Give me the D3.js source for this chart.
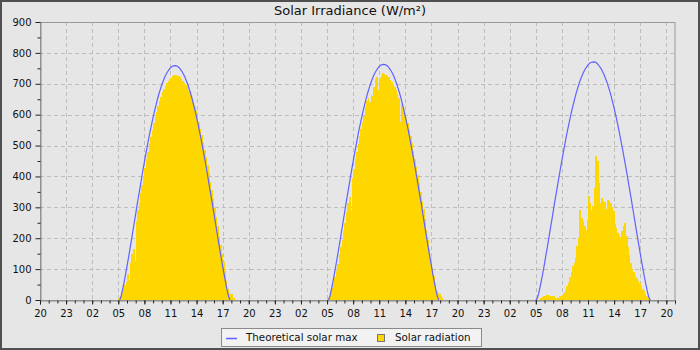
<!DOCTYPE html>
<html><head><meta charset="utf-8">
<script src="https://cdn.jsdelivr.net/npm/d3@7"></script>
<style>body{margin:0;background:#e6e6e6}svg{display:block}</style>
</head><body>
<svg id="chart" width="700" height="350"></svg>
<script>
const chartTitle = "Solar Irradiance (W/m²)";
const seriesNames = ["Theoretical solar max", "Solar radiation"];
// hours from first 20:00 to midnight of each day
const dayMidnights = [4, 28, 52];
const firstSlotHour = 5;          // 05:00
const slotsPerHour = 6;           // 10-minute samples
const xDomainHours = [0, 73];
const xTickLabels = ["20","23","02","05","08","11","14","17","20","23","02","05","08","11","14","17","20","23","02","05","08","11","14","17","20"];
const yTicks = [0,100,200,300,400,500,600,700,800,900];

const theoreticalDay1 = [0,0,13,34,57,83,109,136,164,192,221,250,279,309,336,364,392,420,447,473,498,523,547,569,591,612,631,650,667,682,697,709,721,731,739,746,752,756,758,759,758,756,752,746,739,731,721,709,697,682,667,650,631,612,591,569,547,523,498,473,447,420,392,364,336,309,279,250,221,192,164,136,109,83,57,34,13,0,0,0];
const theoreticalDay2 = [0,0,13,34,57,83,110,137,165,193,222,251,280,311,338,366,394,422,449,475,500,526,550,572,594,615,634,653,670,685,700,713,725,735,743,750,756,760,762,763,762,760,756,750,743,735,725,713,700,685,670,653,634,615,594,572,550,526,500,475,449,422,394,366,338,311,280,251,222,193,165,137,110,83,57,34,13,0,0,0];
const theoreticalDay3 = [0,5,22,43,67,92,118,146,173,201,230,258,287,317,343,371,399,426,453,479,504,529,552,574,596,617,636,655,672,688,703,716,728,738,747,754,761,766,769,770,771,770,767,762,756,749,740,730,718,706,691,676,659,640,621,600,579,557,533,509,484,458,432,405,377,349,322,293,264,235,207,179,151,124,98,72,48,26,8,0];

const radiationDay1 = [8,12,25,40,48,58,85,65,120,150,165,125,255,290,315,345,372,400,428,455,480,505,528,550,572,592,610,628,645,658,672,683,693,702,709,715,720,724,727,727,726,724,721,716,710,703,696,688,678,667,655,642,628,612,594,575,555,533,510,486,462,436,410,383,355,327,298,268,238,208,178,150,122,95,60,35,22,20,18,8];
const radiationDay2 = [5,12,25,40,55,75,95,115,145,170,195,225,250,285,315,335,290,395,425,455,480,505,530,552,575,595,625,645,655,640,665,660,690,715,722,680,718,728,735,733,730,726,722,712,705,698,690,680,668,655,575,635,622,605,590,572,552,530,507,482,458,432,405,378,350,322,293,263,228,195,165,135,105,78,55,30,22,18,12,5];
const radiationDay3 = [0,0,0,6,10,13,14,16,15,14,12,12,13,7,5,8,12,14,17,22,33,44,55,76,92,110,119,136,174,200,292,265,255,240,228,260,336,315,287,303,363,465,449,379,314,330,320,318,295,325,320,315,300,287,245,233,217,210,203,222,238,249,206,170,146,119,100,92,80,71,62,55,45,36,28,20,14,8,3,0];

const theoretical = [theoreticalDay1, theoreticalDay2, theoreticalDay3];
const radiation = [radiationDay1, radiationDay2, radiationDay3];

const W = 700, H = 350;
const M = {left: 40, right: 675, top: 22, bottom: 300};
const svg = d3.select("#chart");
const font = "DejaVu Sans, Verdana, sans-serif";

svg.append("rect").attr("x",0).attr("y",0).attr("width",W).attr("height",H).attr("fill","#e6e6e6");

const x = d3.scaleLinear().domain(xDomainHours).range([M.left, M.right]);
const y = d3.scaleLinear().domain([0, 900]).range([M.bottom, M.top]);

const slotHour = (d, i) => dayMidnights[d] + firstSlotHour + i / slotsPerHour;

// grid
const grid = svg.append("g").attr("stroke","#bdbdbd").attr("stroke-dasharray","4,3").attr("stroke-width",1);
yTicks.filter(v => v > 0 && v < 900).forEach(v => {
  grid.append("line").attr("x1",M.left).attr("x2",M.right).attr("y1",Math.round(y(v))+0.5).attr("y2",Math.round(y(v))+0.5);
});
xTickLabels.forEach((lab, k) => {
  const h = k * 3;
  if (h <= 0) return;
  grid.append("line").attr("x1",Math.round(x(h))+0.5).attr("x2",Math.round(x(h))+0.5).attr("y1",M.top).attr("y2",M.bottom);
});

// bars
const barData = [];
radiation.forEach((arr, d) => arr.forEach((v, i) => barData.push({h: slotHour(d, i), v})));
svg.append("g").selectAll("rect").data(barData.filter(b => b.v > 0)).join("rect")
  .attr("x", b => x(b.h))
  .attr("width", b => x(b.h + 1/slotsPerHour) - x(b.h) + 0.4)
  .attr("y", b => y(b.v))
  .attr("height", b => y(0) - y(b.v))
  .attr("fill", "#ffd700")
  .attr("shape-rendering","crispEdges");

// theoretical lines
const line = d3.line()
  .defined((p, i, arr) => p.v > 0 || (arr[i-1] && arr[i-1].v > 0) || (arr[i+1] && arr[i+1].v > 0))
  .x(p => x(p.h)).y(p => y(p.v));
theoretical.forEach((arr, d) => {
  const pts = arr.map((v, i) => ({h: slotHour(d, i), v}));
  svg.append("path").datum(pts).attr("d", line).attr("fill","none")
    .attr("stroke","#6262ff").attr("stroke-width",1.2);
});

// frame
svg.append("rect").attr("x",M.left+0.5).attr("y",M.top+0.5)
  .attr("width",M.right-M.left-0.5).attr("height",M.bottom-M.top)
  .attr("fill","none").attr("stroke","#9a9a9a");

// y axis
const yAxis = svg.append("g").attr("transform",`translate(${M.left+0.5},0)`)
  .call(d3.axisLeft(y).tickValues(yTicks).tickSize(5).tickPadding(4).tickFormat(d3.format("d")));
const yMinor = svg.append("g").attr("transform",`translate(${M.left+0.5},0)`)
  .call(d3.axisLeft(y).tickValues(yTicks.slice(0,-1).map(v => v + 50)).tickSize(3).tickFormat(""));

// x axis
const xMajor = xTickLabels.map((l, k) => k * 3);
const xAxis = svg.append("g").attr("transform",`translate(0,${M.bottom+0.5})`)
  .call(d3.axisBottom(x).tickValues(xMajor).tickSize(4).tickPadding(5).tickFormat((d, k) => xTickLabels[k]));
const xMinor = svg.append("g").attr("transform",`translate(0,${M.bottom+0.5})`)
  .call(d3.axisBottom(x).tickValues(d3.range(0, 74)).tickSize(3).tickFormat(""));

[yAxis, yMinor, xAxis, xMinor].forEach(g => {
  g.select(".domain").attr("stroke","#8a8a8a");
  g.selectAll(".tick line").attr("stroke","#222");
  g.selectAll("text").attr("font-family",font).attr("font-size",10).attr("fill","#111");
});
yMinor.select(".domain").remove();
xMinor.select(".domain").remove();

// title
svg.append("text").attr("x",350).attr("y",15).attr("text-anchor","middle")
  .attr("font-family",font).attr("font-size",13).attr("fill","#111").text(chartTitle);

// legend
const lg = svg.append("g");
lg.append("rect").attr("x",221.5).attr("y",328.5).attr("width",260).attr("height",18)
  .attr("fill","#f2f2f2").attr("stroke","#8a8a8a");
lg.append("line").attr("x1",226).attr("x2",237).attr("y1",338.5).attr("y2",338.5)
  .attr("stroke","#6262ff").attr("stroke-width",1.5);
lg.append("text").attr("x",246).attr("y",341).attr("font-family",font).attr("font-size",10.3)
  .attr("fill","#111").text(seriesNames[0]);
lg.append("rect").attr("x",377.5).attr("y",334.5).attr("width",7).attr("height",7)
  .attr("fill","#ffd700").attr("stroke","#777");
lg.append("text").attr("x",395).attr("y",341).attr("font-family",font).attr("font-size",10.3)
  .attr("fill","#111").text(seriesNames[1]);

// outer border
svg.append("rect").attr("x",1).attr("y",1).attr("width",W-2).attr("height",H-2)
  .attr("fill","none").attr("stroke","#505050").attr("stroke-width",2);
</script>
</body></html>
